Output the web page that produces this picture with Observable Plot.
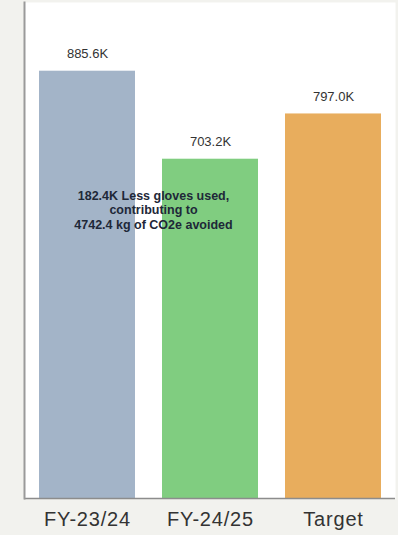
<!DOCTYPE html>
<html>
<head>
<meta charset="utf-8">
<script src="https://cdn.jsdelivr.net/npm/d3@7"></script>
<script src="https://cdn.jsdelivr.net/npm/@observablehq/plot@0.6"></script>
<style>
  html, body { margin: 0; padding: 0; background: #f2f2ee; }
</style>
</head>
<body>
<div id="chart"></div>
<script>
const categories = ["FY-23/24", "FY-24/25", "Target"];
const values = [885.6, 703.2, 797.0];
const valueLabels = ["885.6K", "703.2K", "797.0K"];
const barColors = ["#a3b4c8", "#80cd80", "#e8ad5d"];
const annotationLines = ["182.4K Less gloves used,", "contributing to", "4742.4 kg of CO2e avoided"];

const data = categories.map((c, i) => ({cat: c, value: values[i], label: valueLabels[i]}));

const chart = Plot.plot({
  width: 398,
  height: 535,
  marginLeft: 24,
  marginRight: 3,
  marginTop: 2,
  marginBottom: 37,
  style: {background: "#f2f2ee", fontFamily: "'Liberation Sans', Arial, sans-serif", overflow: "visible"},
  x: {domain: categories, paddingInner: 0.22, paddingOuter: 0.118, label: null},
  y: {domain: [0, 1028], axis: null},
  color: {domain: categories, range: barColors},
  marks: [
    Plot.frame({fill: "white", stroke: "none"}),
    Plot.barY(data, {x: "cat", y: "value", fill: "cat"}),
    Plot.text(data, {x: "cat", y: "value", text: "label", dy: -17, fontSize: 13, fill: "#333", ariaLabel: "value-label"}),
    Plot.ruleY([0], {stroke: "#8c8c8c", strokeWidth: 1.5}),
    Plot.frame({anchor: "left", stroke: "#9a9a9a", strokeWidth: 2}),
    Plot.axisX({tickSize: 0, tickPadding: 13, fontSize: 20, fill: "#333", label: null}),
    Plot.text([annotationLines.join("\n")], {
      x: () => categories[0], frameAnchor: "top", dx: 66, dy: 207,
      text: d => d, fontSize: 12.5, fontWeight: "bold", fill: "#1e2838", lineHeight: 1.16,
      textAnchor: "middle", lineAnchor: "middle", ariaLabel: "annotation"
    })
  ]
});
chart.querySelectorAll('g[aria-label="value-label"]').forEach(g => g.style.letterSpacing = "1.2px");
chart.querySelectorAll('g[aria-label="annotation"]').forEach(g => g.style.letterSpacing = "1.1px");
chart.querySelectorAll('g[aria-label="x-axis tick label"]').forEach(g => g.style.letterSpacing = "0.8px");
document.getElementById("chart").appendChild(chart);
</script>
</body>
</html>
